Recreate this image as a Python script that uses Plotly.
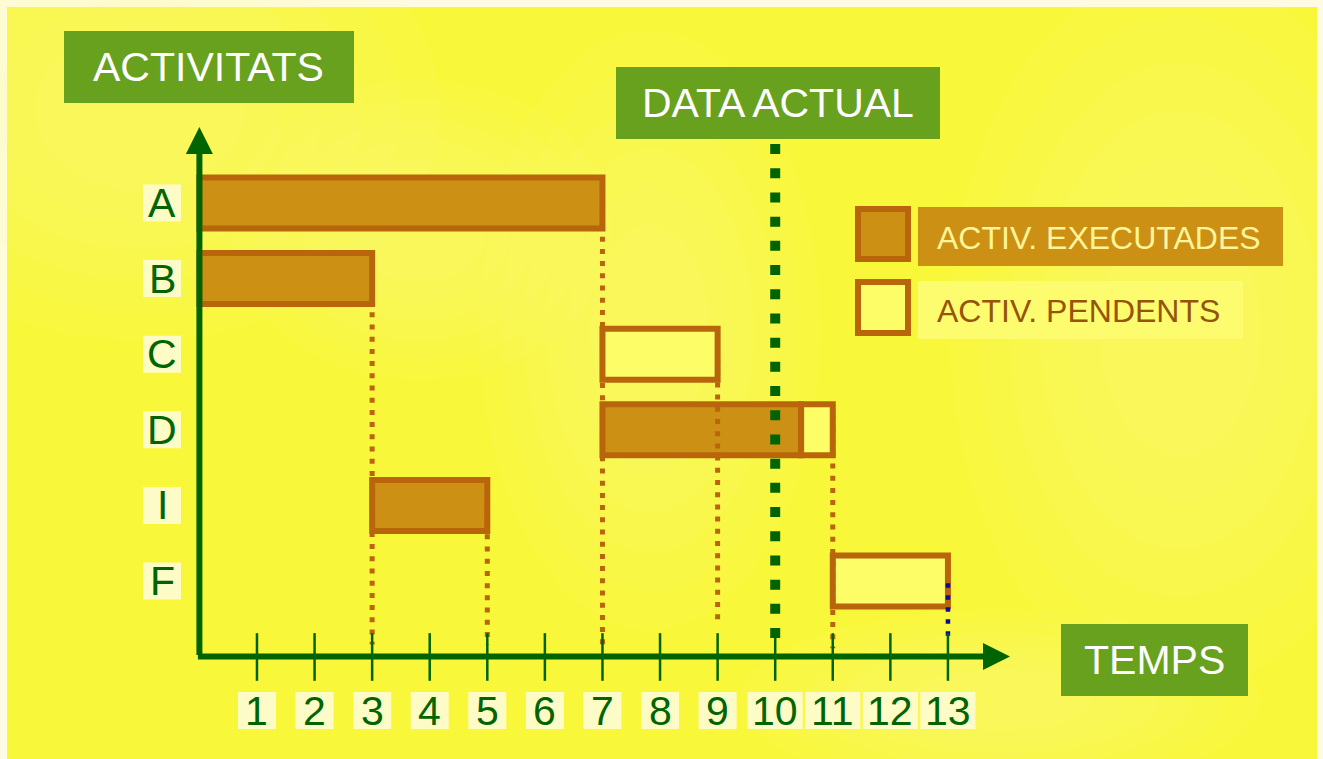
import plotly.graph_objects as go

# ---------------- data ----------------
activities = ["A", "B", "C", "D", "I", "F"]
exec_acts = ["A", "B", "D", "I"]
exec_start = [0, 0, 7, 3]
exec_end = [7, 3, 10.45, 5]
pend_acts = ["C", "D", "F"]
pend_start = [7, 10.45, 11]
pend_end = [9, 11, 13]
time_ticks = list(range(1, 14))
current_date = 10
# dotted guide lines: x position, top, bottom (in axis units)
guide_x = [3, 5, 7, 9, 11]
guide_top = [5.2, 1.94, 6.2, 3.95, 3.2]
guide_bottom = [0.16, 0.16, 0.08, 0.44, 0.11]
blue_guide = [13, 0.97, 0.18]
now_line = [6.78, 0.17]

# ---------------- style / geometry ----------------
W, H = 1323, 759
OX, OY = 199.4, 656.6      # pixel of origin
UX, UY = 57.58, 75.6       # pixels per unit
FONT = "Liberation Sans, Arial, sans-serif"
DKGREEN = "#006400"
BOX_GREEN = "#67a11e"
EXEC_FILL = "#cc9014"
PEND_FILL = "#fdfd68"
BORDER = "#b9650b"
LABEL_BG = "#fefcc6"

ypos = {a: len(activities) - i for i, a in enumerate(activities)}


def dx(px):
    return (px - OX) / UX


def dy(py):
    return (OY - py) / UY


fig = go.Figure()

# bars
fig.add_trace(go.Bar(
    orientation="h", y=[ypos[a] for a in exec_acts],
    base=exec_start, x=[e - s for s, e in zip(exec_start, exec_end)],
    width=0.675, marker=dict(color=EXEC_FILL, line=dict(color=BORDER, width=6)),
    showlegend=False, hoverinfo="skip"))
fig.add_trace(go.Bar(
    orientation="h", y=[ypos[a] for a in pend_acts],
    base=pend_start, x=[e - s for s, e in zip(pend_start, pend_end)],
    width=0.675, marker=dict(color=PEND_FILL, line=dict(color=BORDER, width=6)),
    showlegend=False, hoverinfo="skip"))

# dotted guides
for gx, gt, gb in zip(guide_x, guide_top, guide_bottom):
    fig.add_trace(go.Scatter(x=[gx, gx], y=[gt, gb], mode="lines",
                             line=dict(color=BORDER, width=5, dash="5px,7.2px"),
                             showlegend=False, hoverinfo="skip"))
fig.add_trace(go.Scatter(x=[blue_guide[0]] * 2, y=blue_guide[1:], mode="lines",
                         line=dict(color="#0a0aa0", width=4.5, dash="4.5px,7.5px"),
                         showlegend=False, hoverinfo="skip"))
fig.add_trace(go.Scatter(x=[current_date] * 2, y=now_line, mode="lines",
                         line=dict(color=DKGREEN, width=10, dash="10px,14.2px"),
                         showlegend=False, hoverinfo="skip"))

# tick marks
tx, ty = [], []
for t in time_ticks:
    tx += [t, t, None]
    ty += [-0.32, 0.31, None]
fig.add_trace(go.Scatter(x=tx, y=ty, mode="lines", line=dict(color=DKGREEN, width=2.5),
                         showlegend=False, hoverinfo="skip"))

shapes = []
annotations = []

# background
shapes.append(dict(type="rect", xref="paper", yref="paper", x0=7 / W, x1=1317 / W,
                   y0=0, y1=1 - 7 / H, fillcolor="#f9f73a", line=dict(width=0), layer="below"))
blobs = [(140, 110, 300, 230), (1180, 330, 230, 360), (650, 330, 170, 300),
         (420, 230, 190, 150), (1000, 700, 260, 90)]
for (cx, cy, rx, ry) in blobs:
    for k in range(6):
        f = 1.0 - k * 0.13
        shapes.append(dict(type="circle", xref="paper", yref="paper",
                           x0=(cx - rx * f) / W, x1=(cx + rx * f) / W,
                           y0=1 - (cy + ry * f) / H, y1=1 - (cy - ry * f) / H,
                           fillcolor="#ffffa0", opacity=0.07, line=dict(width=0),
                           layer="below"))

# tick label boxes and text
for t in time_ticks:
    w = 19 if t < 10 else 27.5
    shapes.append(dict(type="rect", xref="x", yref="y", xsizemode="pixel", ysizemode="pixel",
                       xanchor=t, x0=-w, x1=w, yanchor=0, y0=-35.4, y1=-72.4,
                       fillcolor=LABEL_BG, line=dict(width=0), layer="above"))
    annotations.append(dict(x=t, y=0, yshift=-54, text=str(t), showarrow=False,
                            font=dict(family=FONT, size=41, color=DKGREEN),
                            xanchor="center", yanchor="middle"))

# activity label boxes and text
for a in activities:
    shapes.append(dict(type="rect", xref="x", yref="y", xsizemode="pixel", ysizemode="pixel",
                       xanchor=0, x0=-56.4, x1=-18.4, yanchor=ypos[a], y0=-18.5, y1=18.5,
                       fillcolor=LABEL_BG, line=dict(width=0), layer="above"))
    annotations.append(dict(x=0, y=ypos[a], xshift=-37.4, text=a, showarrow=False,
                            font=dict(family=FONT, size=41, color=DKGREEN),
                            xanchor="center", yanchor="middle"))

# axes with arrows
annotations.append(dict(x=0, y=dy(127), ax=0, ay=0, axref="x", ayref="y", text="",
                        showarrow=True, arrowhead=2, arrowsize=0.9, arrowwidth=6,
                        arrowcolor=DKGREEN, standoff=0))
annotations.append(dict(x=dx(1010), y=0, ax=dx(196.4), ay=0, axref="x", ayref="y", text="",
                        showarrow=True, arrowhead=2, arrowsize=0.9, arrowwidth=6,
                        arrowcolor=DKGREEN, standoff=0))

# green title boxes
for (x0, x1, y0, y1, txt) in [(64, 354, 31, 103, "ACTIVITATS"),
                              (616, 940, 67, 139, "DATA ACTUAL"),
                              (1061, 1248, 624, 696, "TEMPS")]:
    shapes.append(dict(type="rect", xref="paper", yref="paper", x0=x0 / W, x1=x1 / W,
                       y0=1 - y1 / H, y1=1 - y0 / H, fillcolor=BOX_GREEN,
                       line=dict(width=0), layer="above"))
    annotations.append(dict(xref="paper", yref="paper", x=(x0 + x1) / 2 / W,
                            y=1 - (y0 + y1) / 2 / H, text=txt, showarrow=False,
                            font=dict(family=FONT, size=41, color="white"),
                            xanchor="center", yanchor="middle"))

# legend
for (sy0, sy1, fill, bx1, bfill, txt, tcol, by0, by1) in [
        (209, 259, EXEC_FILL, 1283, EXEC_FILL, "ACTIV. EXECUTADES", "#fdf59a", 207, 266),
        (282, 333, PEND_FILL, 1243, "#fdfc6e", "ACTIV. PENDENTS", "#95540a", 281, 339)]:
    shapes.append(dict(type="rect", xref="paper", yref="paper", x0=858 / W, x1=908 / W,
                       y0=1 - sy1 / H, y1=1 - sy0 / H, fillcolor=fill,
                       line=dict(color=BORDER, width=6), layer="above"))
    shapes.append(dict(type="rect", xref="paper", yref="paper", x0=918 / W, x1=bx1 / W,
                       y0=1 - by1 / H, y1=1 - by0 / H, fillcolor=bfill,
                       line=dict(width=0), layer="above"))
    annotations.append(dict(xref="paper", yref="paper", x=935 / W, y=1 - (by0 + by1) / 2 / H - 1 / H,
                            text=txt, showarrow=False,
                            font=dict(family=FONT, size=32, color=tcol),
                            xanchor="left", yanchor="middle"))

fig.update_layout(
    width=W, height=H, autosize=False,
    margin=dict(l=0, r=0, t=0, b=0, pad=0),
    paper_bgcolor="#fdfbe2", plot_bgcolor="rgba(0,0,0,0)",
    barmode="overlay", showlegend=False,
    xaxis=dict(range=[-OX / UX, (W - OX) / UX], visible=False, fixedrange=True),
    yaxis=dict(range=[-(H - OY) / UY, OY / UY], visible=False, fixedrange=True),
    shapes=shapes, annotations=annotations,
)

fig.write_html("out.html", config={"displayModeBar": False})
